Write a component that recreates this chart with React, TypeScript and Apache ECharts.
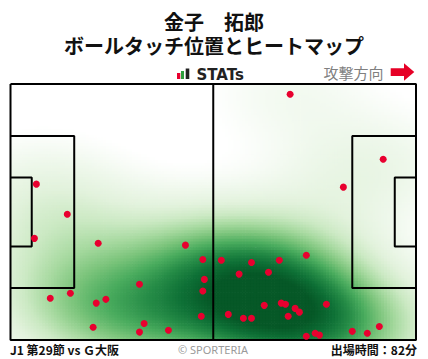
import React, { useEffect, useRef } from "react";
import * as echarts from "echarts";

// ---- Data ----
const titleName = "金子　拓郎";
const titleSub = "ボールタッチ位置とヒートマップ";
const brandText = "STATs";
const directionText = "攻撃方向";
const matchText = "J1 第29節 vs Ｇ大阪";
const creditText = "© SPORTERIA";
const minutesText = "出場時間：82分";

// touch positions in metres (x along a 105 m pitch, y from the top touchline of a 68 m pitch)
const touchX = [
  6.7, 72.4, 96.5, 86.2, 14.7, 6.2, 10.3, 15.5, 22.7, 45.3, 49.8, 50.2, 49.8, 33.4,
  24.7, 22.2, 49.4, 34.6, 21.4, 33.4, 40.9, 54.6, 62.4, 69.6, 76.6, 59.2, 66.8, 65.7,
  70.1, 71.2, 73.7, 74.8, 71.9, 81.8, 56.4, 60.3, 62.4, 76.6, 78.9, 80.0, 88.5, 92.4, 95.5,
];
const touchY = [
  26.6, 2.7, 20.0, 27.4, 34.6, 41.0, 56.9, 55.6, 42.3, 42.8, 46.6, 51.9, 55.0, 53.2,
  57.2, 58.2, 61.7, 63.6, 64.6, 65.9, 65.4, 46.8, 47.4, 46.8, 45.5, 50.5, 50.0, 58.8,
  58.2, 58.5, 59.6, 60.6, 61.7, 58.5, 61.2, 62.2, 62.2, 67.0, 66.2, 66.7, 65.7, 66.2, 64.4,
];

// pitch geometry (metres)
const PITCH_LENGTH = 105;
const PITCH_WIDTH = 68;
const BOX_DEPTH = 16.5;
const BOX_WIDTH = 40.32;
const GOAL_AREA_DEPTH = 5.5;
const GOAL_AREA_WIDTH = 18.32;

const heatColors = [
  "#ffffff", "#eff8ec", "#e2f2dc", "#cbe9c3", "#a6d99f", "#7bc47b",
  "#4aac5e", "#268c47", "#0e7036", "#065827",
];

// ---- density grid derived from the touches ----
const NX = 140;
const NY = 91;
const SX = 15;
const SY = 10;
function buildDensity() {
  const cw = PITCH_LENGTH / NX;
  const ch = PITCH_WIDTH / NY;
  const raw: number[][] = [];
  let max = 0;
  for (let i = 0; i < NX; i++) {
    for (let j = 0; j < NY; j++) {
      const cx = (i + 0.5) * cw;
      const cy = (j + 0.5) * ch;
      let d = 0;
      for (let k = 0; k < touchX.length; k++) {
        const dx = (cx - touchX[k]) / SX;
        const dy = (cy - touchY[k]) / SY;
        d += Math.exp(-0.5 * (dx * dx + dy * dy));
      }
      if (d > max) max = d;
      raw.push([i * cw, j * ch, d]);
    }
  }
  const cells = raw.map(([x, y, d]) => [x, y, Math.pow(d / max, 0.75)]);
  return { cells, cw, ch };
}

function pitchLines() {
  const L = PITCH_LENGTH, W = PITCH_WIDTH;
  const bt = (W - BOX_WIDTH) / 2, bb = (W + BOX_WIDTH) / 2;
  const gt = (W - GOAL_AREA_WIDTH) / 2, gb = (W + GOAL_AREA_WIDTH) / 2;
  return [
    [[0, 0], [L, 0], [L, W], [0, W], [0, 0]],
    [[L / 2, 0], [L / 2, W]],
    [[0, bt], [BOX_DEPTH, bt], [BOX_DEPTH, bb], [0, bb]],
    [[0, gt], [GOAL_AREA_DEPTH, gt], [GOAL_AREA_DEPTH, gb], [0, gb]],
    [[L, bt], [L - BOX_DEPTH, bt], [L - BOX_DEPTH, bb], [L, bb]],
    [[L, gt], [L - GOAL_AREA_DEPTH, gt], [L - GOAL_AREA_DEPTH, gb], [L, gb]],
  ];
}

export default function App() {
  const ref = useRef<HTMLDivElement>(null);
  useEffect(() => {
    document.body.style.margin = "0";
    const chart = echarts.init(ref.current!, null, { renderer: "svg" });
    const { cells, cw, ch } = buildDensity();
    const lineSeries = pitchLines().map((pts) => ({
      type: "line",
      data: pts,
      symbol: "none",
      silent: true,
      z: 5,
      lineStyle: { color: "#000", width: 2 },
    }));
    const cjk = '"Noto Sans CJK JP", "Noto Sans", sans-serif';
    chart.setOption({
      animation: false,
      backgroundColor: "#ffffff",
      grid: { left: 10.5, right: 12, top: 84, bottom: 19 },
      xAxis: { type: "value", min: 0, max: PITCH_LENGTH, show: false },
      yAxis: { type: "value", min: 0, max: PITCH_WIDTH, inverse: true, show: false },
      visualMap: {
        show: false,
        type: "continuous",
        seriesIndex: 0,
        dimension: 2,
        min: 0.06,
        max: 0.9,
        inRange: { color: heatColors },
      },
      series: [
        {
          type: "custom",
          silent: true,
          z: 1,
          data: cells,
          renderItem: (params: any, api: any) => {
            const x = api.value(0);
            const y = api.value(1);
            const p0 = api.coord([x, y]);
            const p1 = api.coord([x + cw, y + ch]);
            return {
              type: "rect",
              shape: {
                x: Math.min(p0[0], p1[0]),
                y: Math.min(p0[1], p1[1]),
                width: Math.abs(p1[0] - p0[0]) + 0.7,
                height: Math.abs(p1[1] - p0[1]) + 0.7,
              },
              style: { fill: api.visual("color") },
            };
          },
        },
        ...lineSeries,
        {
          type: "scatter",
          z: 10,
          silent: true,
          symbolSize: 7,
          itemStyle: { color: "#e8002f", opacity: 1 },
          data: touchX.map((x, i) => [x, touchY[i]]),
        },
      ],
      graphic: [
        { type: "text", x: 214, y: 21, style: { text: titleName, font: `bold 20px ${cjk}`, fill: "#111", textAlign: "center", textVerticalAlign: "middle" } },
        { type: "text", x: 214, y: 45.5, style: { text: titleSub, font: `bold 20px ${cjk}`, fill: "#111", textAlign: "center", textVerticalAlign: "middle" } },
        { type: "rect", shape: { x: 177, y: 73, width: 3.3, height: 6 }, style: { fill: "#e8002f" } },
        { type: "rect", shape: { x: 181, y: 71, width: 3, height: 8 }, style: { fill: "#2e9e3e" } },
        { type: "rect", shape: { x: 185.7, y: 68.5, width: 3.6, height: 10.5 }, style: { fill: "#222" } },
        { type: "text", x: 196.5, y: 74.5, style: { text: brandText, font: 'bold 15px "DejaVu Sans", sans-serif', fill: "#222", textAlign: "left", textVerticalAlign: "middle" } },
        { type: "text", x: 383.5, y: 72, style: { text: directionText, font: `15px ${cjk}`, fill: "#808080", textAlign: "right", textVerticalAlign: "middle" } },
        {
          type: "polygon",
          shape: { points: [[390.7, 68.3], [404, 68.3], [404, 63.3], [414.3, 72], [404, 80.7], [404, 76], [390.7, 76]] },
          style: { fill: "#e60026" },
        },
        { type: "text", x: 10, y: 349.5, style: { text: matchText, font: `bold 12px ${cjk}`, fill: "#111", textAlign: "left", textVerticalAlign: "middle" } },
        { type: "text", x: 213, y: 349, style: { text: creditText, font: '11px "Noto Sans", sans-serif', fill: "#9a9a9a", textAlign: "center", textVerticalAlign: "middle" } },
        { type: "text", x: 417, y: 349.5, style: { text: minutesText, font: `bold 12px ${cjk}`, fill: "#111", textAlign: "right", textVerticalAlign: "middle" } },
      ],
    });
    return () => chart.dispose();
  }, []);
  return (
    <div
      ref={ref}
      style={{ position: "absolute", left: 0, top: 0, width: 428, height: 359, background: "#fff" }}
    />
  );
}
